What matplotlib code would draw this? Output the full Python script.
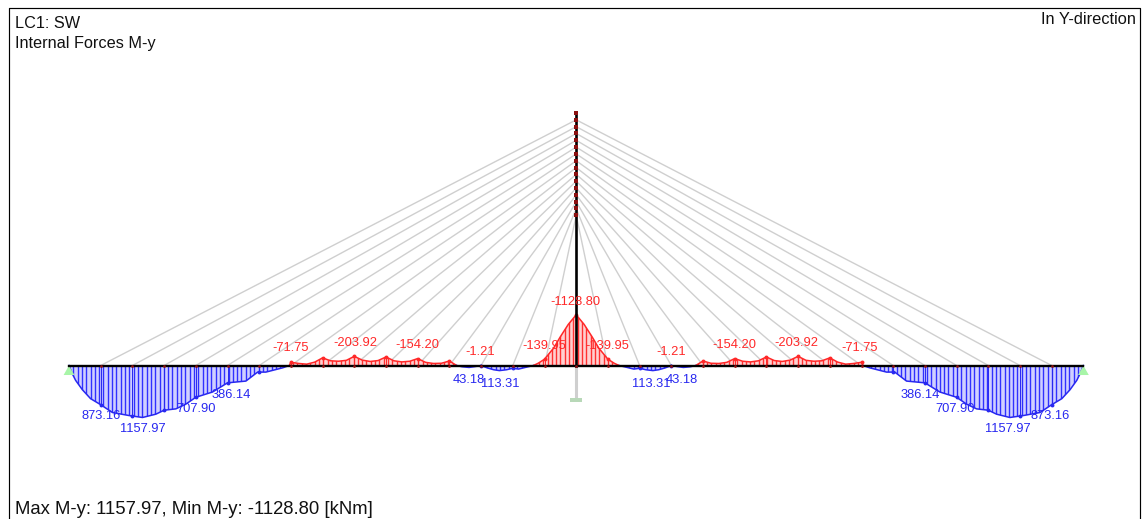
import numpy as np
import matplotlib
matplotlib.use('Agg')
import matplotlib.pyplot as plt
from matplotlib.patches import Polygon, Rectangle

plt.rcParams['font.family'] = ['Liberation Sans', 'DejaVu Sans']

W, H = 1144, 519
PX_PER_M = 3.17
DECK_LEFT_PX, DECK_Y_PX = 69, 365.5
MOMENT_SCALE = 0.0449 / PX_PER_M  # m of drawing per kNm

DECK_LENGTH = 320.0
PYLON_X = 160.0
PYLON_TOP = 79.5
PYLON_BOTTOM = -10.4
HATCH_STEP = 1.36

# bending moment, left half of the deck: station (m), M-y (kNm), positive is sagging
sag_end_x = [0, 1.05, 2.1, 4.2, 6.8, 10, 13.7, 18.9, 23.2, 27.4, 30, 33.7, 36.8, 40,
             45.3, 50, 55.8, 59.5, 62.1, 67.4, 69.5]
sag_end_m = [0, 184, 332, 538, 738, 873.16, 1047, 1114, 1157.97, 1084, 996, 966, 863,
             707.9, 590, 386.14, 347, 147, 147, 52, 0]

hog_x = [69.5, 70, 72.5, 75, 77.5, 80, 82.5, 85, 87.5, 90, 92.5, 95, 97.5, 100, 102.5,
         105, 107.5, 110, 112.5, 115, 117.5, 120, 122.3]
hog_m = [0, -71.75, -45, -30, -75, -170, -105, -95, -115, -203.92, -120, -90, -110,
         -190, -105, -80, -95, -154.2, -70, -45, -50, -100, 0]

sag_mid1_x = [122.3, 124, 126.2, 128, 130]
sag_mid1_m = [0, 28, 43.18, 25, 1.21]

sag_mid2_x = [130, 132, 134, 135.8, 138, 140, 141.8, 144, 146.5]
sag_mid2_m = [1.21, 55, 95, 113.31, 95, 62, 80, 42, 0]

hog_mid_x = [146.5, 148, 150, 152.9, 155, 157.5, 160]
hog_mid_m = [0, -50, -139.95, -390, -640, -915, -1128.8]

# nodes on the deck, every panel
node_x = [10, 20, 30, 40, 50, 60, 70, 80, 90, 100, 110, 120, 130, 140, 150, 160]
node_m = [873.16, 1128, 996, 707.9, 386.14, 147, -71.75, -170, -203.92, -190, -154.2,
          -100, 1.21, 62, -139.95, -1128.8]

# cables: deck station and anchor height on the pylon
cable_x = [10, 20, 30, 40, 50, 60, 70, 80, 90, 100, 110, 120, 130, 140, 150]
cable_h = [77.5, 75.35, 73.2, 71.05, 68.9, 66.75, 64.6, 62.45, 60.3, 58.15, 56.0, 53.85,
           51.7, 49.55, 47.4]

# text, x and y in pixels of the left half, mirrored for the right one
left_labels = ['873.16', '1157.97', '707.90', '386.14', '-71.75', '-203.92', '-154.20',
               '-1.21', '43.18', '113.31', '-139.95']
left_label_x = [101, 143, 196, 231, 291, 355, 417, 480, 469, 500, 544]
left_label_y = [416, 429, 409, 395, 348, 343, 345, 352, 380, 384, 346]

RED = '#ff2828'
BLUE = '#2828f0'
RED_FILL = '#ffd0d0'
BLUE_FILL = '#d0d0ff'
RED_LINE = '#ff3030'
BLUE_LINE = '#3030ff'
GREY = '#cfcfcf'
GREEN = '#a8f5a8'


def mirror(x):
    return DECK_LENGTH - np.asarray(x, dtype=float)


def put(x_px, y_px, s, **kw):
    fig.text(x_px / W, 1 - y_px / H, s, **kw)


fig = plt.figure(figsize=(W / 100, H / 100), dpi=100)
ax = fig.add_axes([0, 0, 1, 1])
ax.set_xlim(-DECK_LEFT_PX / PX_PER_M, (W - DECK_LEFT_PX) / PX_PER_M)
ax.set_ylim((DECK_Y_PX - H) / PX_PER_M, DECK_Y_PX / PX_PER_M)
ax.axis('off')

# cables
for cx, ch in zip(cable_x, cable_h):
    ax.plot([cx, PYLON_X, mirror(cx)], [0, ch, 0], color=GREY, lw=1.0, zorder=1)

# moment diagram, the ordinates are upright lines clipped by the filled outline
segments = [(sag_end_x, sag_end_m, BLUE, BLUE_FILL, BLUE_LINE),
            (hog_x, hog_m, RED, RED_FILL, RED_LINE),
            (sag_mid1_x, sag_mid1_m, BLUE, BLUE_FILL, BLUE_LINE),
            (sag_mid2_x, sag_mid2_m, BLUE, BLUE_FILL, BLUE_LINE),
            (hog_mid_x, hog_mid_m, RED, RED_FILL, RED_LINE)]
for xs, ms, col, fill, line in segments:
    ys = -np.asarray(ms) * MOMENT_SCALE
    for xx in (np.asarray(xs, dtype=float), mirror(xs)):
        shape = ax.fill_between(xx, ys, 0, facecolor=fill, edgecolor='none', zorder=2)
        ticks = np.arange(xx.min() // HATCH_STEP, xx.max() // HATCH_STEP + 2) * HATCH_STEP
        ords = ax.vlines(ticks, ys.min(), ys.max(), color=line, lw=1.0, zorder=2.5)
        ords.set_clip_path(shape.get_paths()[0], shape.get_transform())
        ax.plot(xx, ys, color=col, lw=1.1, zorder=3)

# node ordinates and dots
for nx, nm in zip(node_x, node_m):
    col = BLUE if nm > 0 else RED
    y = -nm * MOMENT_SCALE
    for xx in {nx, float(mirror(nx))}:
        ax.plot([xx, xx], [0, y], color=col, lw=0.7, zorder=3)
        ax.plot(xx, y, 'o', color=col, ms=2.8, mew=0, zorder=4)

# pylon, deck, supports
ax.plot([PYLON_X, PYLON_X], [0, PYLON_BOTTOM], color=GREY, lw=2.2, zorder=2)
ax.plot([PYLON_X, PYLON_X], [0, PYLON_TOP], color='black', lw=1.9, zorder=5)
ax.plot([PYLON_X] * (len(cable_h) + 1), [PYLON_TOP] + cable_h, ls='none', marker='s',
        color='#8b1010', ms=2.2, mew=0, zorder=6)
ax.plot([0, DECK_LENGTH], [0, 0], color='black', lw=1.7, zorder=5)
ax.plot(node_x + [float(mirror(n)) for n in node_x[:-1]], [0] * (2 * len(node_x) - 1),
        ls='none', marker='o', color='#8b1010', ms=2, mew=0, zorder=6)

for sx in (0, DECK_LENGTH):
    ax.add_patch(Polygon([(sx, 0), (sx - 1.7, -3), (sx + 1.7, -3)], closed=True,
                         facecolor=GREEN, edgecolor='none', zorder=4))
ax.add_patch(Rectangle((PYLON_X - 1.8, PYLON_BOTTOM - 1.0), 3.6, 1.0, facecolor='#b8d8b8',
                       edgecolor='none', zorder=4))

# frame, open at the bottom like the screenshot
ax.plot([8.5 / W, 8.5 / W, 1140 / W, 1140 / W], [0, 1 - 8 / H, 1 - 8 / H, 0],
        transform=fig.transFigure, color='black', lw=0.85, clip_on=False)

# value labels
for s, lx, ly in zip(left_labels, left_label_x, left_label_y):
    col = RED if s.startswith('-') else BLUE
    put(lx, ly, s, color=col, fontsize=9.3, ha='center', va='center', zorder=8)
    put(1151 - lx, ly, s, color=col, fontsize=9.3, ha='center', va='center', zorder=8)
put(575, 302, '-1128.80', color=RED, fontsize=9.3, ha='center', va='center')

# captions
put(15, 24, 'LC1: SW', fontsize=11.7, color='#111111', ha='left', va='center')
put(15, 43.5, 'Internal Forces M-y', fontsize=11.7, color='#111111', ha='left', va='center')
put(1136, 19, 'In Y-direction', fontsize=11.8, color='#111111', ha='right', va='center')
put(15, 509, 'Max M-y: 1157.97, Min M-y: -1128.80 [kNm]', fontsize=13.3, color='#111111',
    ha='left', va='center')

fig.savefig('out.png', dpi=100, facecolor='white')
